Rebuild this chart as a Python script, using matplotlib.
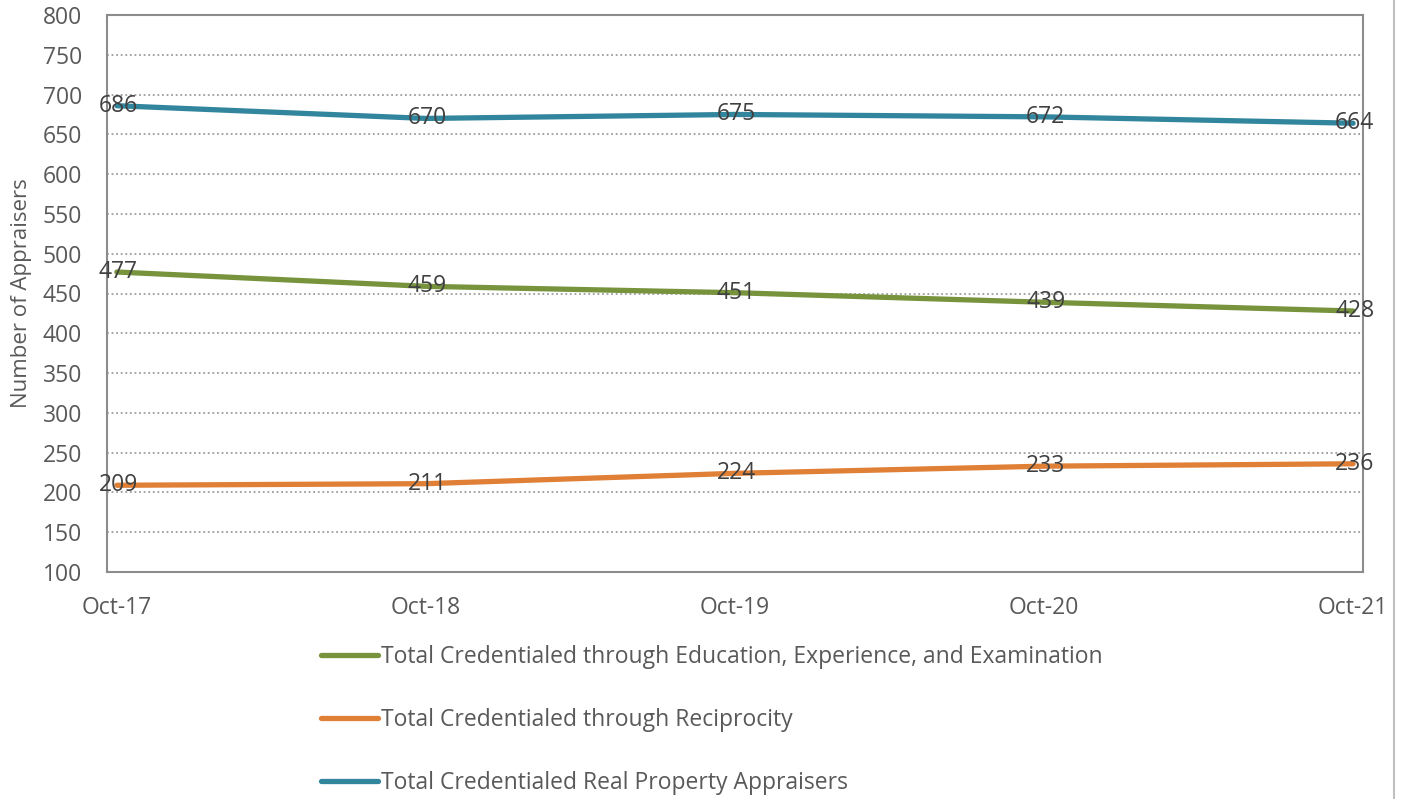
import matplotlib.pyplot as plt
from matplotlib.lines import Line2D

plt.rcParams['font.family'] = ['Open Sans', 'DejaVu Sans']

months = ["Oct-17", "Oct-18", "Oct-19", "Oct-20", "Oct-21"]
education = [477, 459, 451, 439, 428]
reciprocity = [209, 211, 224, 233, 236]
total = [686, 670, 675, 672, 664]

names = ["Total Credentialed through Education, Experience, and Examination",
         "Total Credentialed through Reciprocity",
         "Total Credentialed Real Property Appraisers"]
colors = ["#77933C", "#E07F36", "#31859C"]
txt = "#595959"

fig = plt.figure(figsize=(14.06, 7.99), dpi=100)
ax = fig.add_axes([107 / 1406, 1 - 572 / 799, 1256 / 1406, 557 / 799])

x = list(range(len(months)))
for vals, c in zip([education, reciprocity, total], colors):
    ax.plot(x, vals, color=c, lw=3.8, solid_capstyle='round', zorder=3)
    for xi, v in zip(x, vals):
        ax.text(xi + 0.005, v, str(v), ha='center', va='center', fontsize=16.5, color="#404040", zorder=4)

ax.set_xlim(-0.032, 4.032)
ax.set_ylim(100, 800)
ax.set_yticks(range(100, 801, 50))
ax.set_xticks(x)
ax.set_xticklabels(months)
ax.tick_params(length=0, labelsize=16.5, colors=txt)
ax.tick_params(axis='x', pad=17)
ax.tick_params(axis='y', pad=18)
ax.grid(axis='y', color='#8c8c8c', linestyle=(0, (1.2, 1.8)), lw=1.1)
for s in ax.spines.values():
    s.set_color('#8c8c8c')
    s.set_linewidth(1.5)
ax.set_ylabel("Number of Appraisers", fontsize=16, color=txt, labelpad=8)

# right border line
fig.add_artist(Line2D([1394 / 1406] * 2, [0, 1], color='#c0c0c0', lw=1.5))

handles = [Line2D([0], [0], color=c, lw=3.8, solid_capstyle='round') for c in colors]
fig.legend(handles, names, loc='upper left', bbox_to_anchor=(310 / 1406, 1 - 634 / 799),
           frameon=False, fontsize=16.5, labelcolor=txt, handlelength=2.45,
           handletextpad=0.15, labelspacing=1.7, borderpad=0)

fig.savefig("out.png", dpi=100)
